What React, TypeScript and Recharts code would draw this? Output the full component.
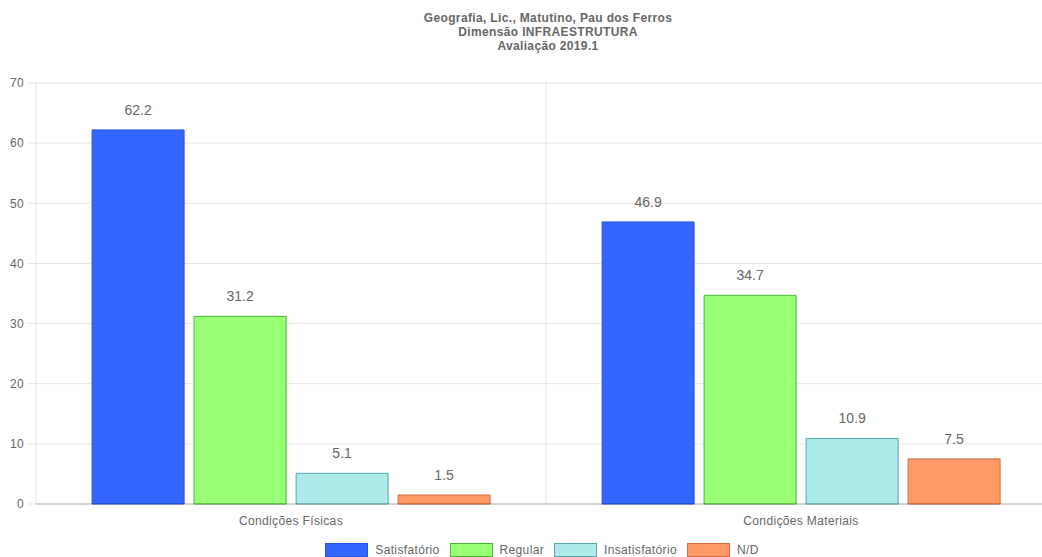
import React from 'react';
import {
  BarChart,
  Bar,
  XAxis,
  YAxis,
  CartesianGrid,
  LabelList,
} from 'recharts';

const TITLE = ['Geografia, Lic., Matutino, Pau dos Ferros', 'Dimensão INFRAESTRUTURA', 'Avaliação 2019.1'];
const CATEGORIES = ['Condições Físicas', 'Condições Materiais'];
const SATISFATORIO = [62.2, 46.9];
const REGULAR = [31.2, 34.7];
const INSATISFATORIO = [5.1, 10.9];
const ND = [1.5, 7.5];
const Y_TICKS = [0, 10, 20, 30, 40, 50, 60, 70];

const SERIES = [
  { key: 'satisfatorio', name: 'Satisfatório', values: SATISFATORIO, fill: '#3366ff', stroke: '#2a55d8' },
  { key: 'regular', name: 'Regular', values: REGULAR, fill: '#99ff77', stroke: '#44b833' },
  { key: 'insatisfatorio', name: 'Insatisfatório', values: INSATISFATORIO, fill: '#aeeaea', stroke: '#55a8a8' },
  { key: 'nd', name: 'N/D', values: ND, fill: '#ff9966', stroke: '#d26a3f' },
];

const data = CATEGORIES.map((cat, i) => {
  const row: Record<string, string | number> = { category: cat };
  SERIES.forEach(s => { row[s.key] = s.values[i]; });
  return row;
});

const FONT = '"Liberation Sans", Arial, Helvetica, sans-serif';
const W = 1096;
const H = 557;
const SPACING = 0.35;

export default function App() {
  return (
    <div style={{ position: 'absolute', left: 0, top: 0, width: 1042, height: 557, overflow: 'hidden', background: '#fff', fontFamily: FONT }}>
      <div style={{ position: 'absolute', left: 0, top: 11, width: W, textAlign: 'center', fontWeight: 'bold', fontSize: 12, lineHeight: '14px', color: '#666', letterSpacing: SPACING }}>
        {TITLE.map(t => <div key={t}>{t}</div>)}
      </div>
      <BarChart
        width={W}
        height={H}
        data={data}
        margin={{ top: 83, right: 40, left: 0, bottom: 23 }}
        barCategoryGap="11%"
        barGap={10}
        style={{ fontFamily: FONT }}
      >
        <CartesianGrid
          stroke="rgba(0,0,0,0.1)"
          verticalCoordinatesGenerator={({ offset }: any) => [offset.left + offset.width / 2]}
        />
        <XAxis
          dataKey="category"
          tickLine={false}
          axisLine={{ stroke: 'rgba(0,0,0,0.25)' }}
          tick={{ fill: '#666', fontSize: 12, letterSpacing: SPACING }}
          tickMargin={6}
          height={30}
        />
        <YAxis
          domain={[0, 70]}
          ticks={Y_TICKS}
          width={36}
          axisLine={{ stroke: 'rgba(0,0,0,0.1)' }}
          tickLine={{ stroke: 'rgba(0,0,0,0.1)' }}
          tickSize={8}
          tickMargin={4}
          tick={{ fill: '#666', fontSize: 12, letterSpacing: SPACING }}
        />
        {SERIES.map(s => (
          <Bar key={s.key} dataKey={s.key} name={s.name} fill={s.fill} stroke={s.stroke} strokeWidth={1} isAnimationActive={false}>
            <LabelList dataKey={s.key} position="top" offset={15} fill="#666" fontSize={14} />
          </Bar>
        ))}
      </BarChart>
      <div style={{ position: 'absolute', left: 0, top: 543, width: W - 12, display: 'flex', justifyContent: 'center', fontSize: 12, color: '#666', letterSpacing: SPACING }}>
        {SERIES.map((s, i) => (
          <div key={s.key} style={{ display: 'flex', alignItems: 'center', marginLeft: i === 0 ? 0 : 10 }}>
            <span style={{ display: 'inline-block', width: 41, height: 12, background: s.fill, border: `1px solid ${s.stroke}`, marginRight: 7 }} />
            <span>{s.name}</span>
          </div>
        ))}
      </div>
    </div>
  );
}
